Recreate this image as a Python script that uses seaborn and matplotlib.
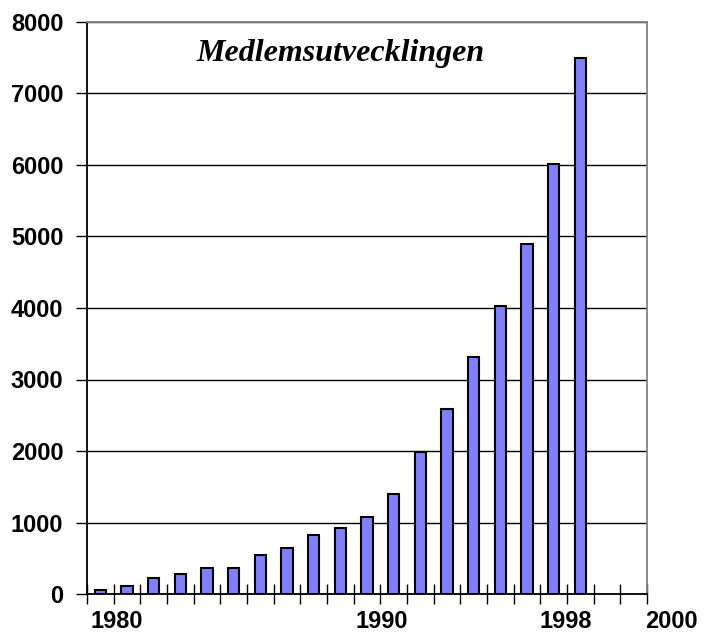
import numpy as np
import pandas as pd
import matplotlib
matplotlib.use('Agg')
import matplotlib.pyplot as plt
import matplotlib.transforms as mtransforms
import seaborn as sns

# Medlemsantal per år (1999 och 2000 saknar värden)
years = [str(y) for y in range(1980, 2001)]
members = [50, 110, 225, 280, 365, 365, 540, 645, 820, 925, 1070, 1400,
           1990, 2590, 3310, 4030, 4900, 6020, 7500, np.nan, np.nan]
tick_labels = ['1980', '1990', '1998', '2000']
tick_pos = [0.6, 10.55, 17.45, 21.4]

df = pd.DataFrame({'year': years, 'members': members})

sns.set_style('white')
plt.rcParams['font.family'] = ['Liberation Sans', 'DejaVu Sans']
plt.rcParams['text.color'] = 'black'
plt.rcParams['xtick.color'] = 'black'
plt.rcParams['ytick.color'] = 'black'

fig = plt.figure(figsize=(7.09, 6.32), dpi=100)
ax = fig.add_axes([87 / 709, 38 / 632, 560 / 709, 572 / 632])

sns.barplot(data=df, x='year', y='members', order=years, color='#8080ff',
            saturation=1, width=0.42, edgecolor='black', linewidth=1.5,
            ax=ax, zorder=3)

ax.set_yticks(np.arange(0, 8001, 1000))
ax.set_yticklabels([str(v) for v in range(0, 8001, 1000)],
                   fontsize=17, fontweight='bold')
ax.yaxis.grid(True, color='black', linewidth=1.0, zorder=0)
ax.set_axisbelow(True)

# kategorigränser som små streck
ax.set_xticks(np.arange(-0.5, len(years), 1.0), minor=True)
ax.set_xticks([])
ax.tick_params(axis='x', which='minor', length=14, width=1.0,
               direction='inout', color='black', bottom=True)
ax.tick_params(axis='y', which='major', length=8, width=1.0,
               direction='out', color='black', left=True, pad=9)
ax.set_xlim(-0.5, len(years) - 0.5)
ax.set_ylim(0, 8000)

# årtal under axeln (2000 hamnar utanför diagramytan, som i originalet)
trans = mtransforms.blended_transform_factory(ax.transData, ax.transAxes)
for pos, lab in zip(tick_pos, tick_labels):
    ax.text(pos, -0.048, lab, transform=trans, ha='center', va='center',
            fontsize=17, fontweight='bold', clip_on=False)

ax.set_xlabel('')
ax.set_ylabel('')

for side in ['left', 'bottom']:
    ax.spines[side].set_color('black')
    ax.spines[side].set_linewidth(1.3)
for side in ['top', 'right']:
    ax.spines[side].set_color('#808080')
    ax.spines[side].set_linewidth(1.3)

ax.text(0.452, 0.945, 'Medlemsutvecklingen', transform=ax.transAxes,
        ha='center', va='center', fontsize=23, fontweight='bold',
        fontstyle='italic', color='black',
        family=['Liberation Serif', 'DejaVu Serif'])

fig.savefig('out.png', dpi=100)
